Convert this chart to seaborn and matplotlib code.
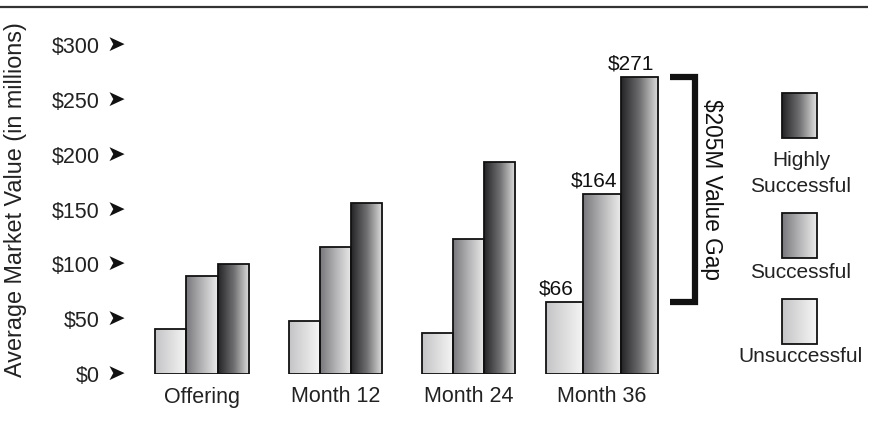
import numpy as np
import pandas as pd
import matplotlib
matplotlib.use("Agg")
import matplotlib.pyplot as plt
import seaborn as sns
from matplotlib.colors import LinearSegmentedColormap
from matplotlib.patches import Rectangle
from matplotlib.transforms import blended_transform_factory

# ---------------- data ----------------
periods = ["Offering", "Month 12", "Month 24", "Month 36"]
groups = ["Unsuccessful", "Successful", "Highly Successful"]
unsuccessful = [41, 48, 37, 66]
successful = [89, 116, 123, 164]
highly_successful = [100, 156, 193, 271]
y_ticks = [0, 50, 100, 150, 200, 250, 300]
y_tick_labels = ["$0", "$50", "$100", "$150", "$200", "$250", "$300"]
gap_label = "$205M Value Gap"
y_label = "Average Market Value (in millions)"

df = pd.DataFrame({
    "period": periods * 3,
    "group": [groups[0]] * 4 + [groups[1]] * 4 + [groups[2]] * 4,
    "value": unsuccessful + successful + highly_successful,
})

# gradient colour pairs (left -> right)
grad = {
    "Unsuccessful": ["#c4c4c6", "#f6f6f6"],
    "Successful": ["#78787c", "#b4b4b6", "#ececec"],
    "Highly Successful": ["#242426", "#707072", "#e2e2e2"],
}

FONT = ["Liberation Sans", "DejaVu Sans"]
sns.set_theme(style="white")
plt.rcParams["font.family"] = FONT

W, H = 873, 428
fig = plt.figure(figsize=(W / 100, H / 100), dpi=100)

# main axes
px_left, px_right = 130, 730
px_base, px_top = 374, 45
ax = fig.add_axes([px_left / W, (H - px_base) / H,
                   (px_right - px_left) / W, (px_base - px_top) / H])

sns.barplot(data=df, x="period", y="value", hue="group", hue_order=groups,
            order=periods, width=0.7, dodge=True, legend=False, ax=ax,
            saturation=1, color="white")

ax.set_ylim(0, 300)
ax.set_xlim(-0.54, 3.96)
for s in ax.spines.values():
    s.set_visible(False)
ax.set_xlabel("")
ax.set_ylabel("")
ax.set_yticks(y_ticks)
ax.set_yticklabels(y_tick_labels)
ax.tick_params(axis="y", length=0, pad=22, labelsize=15.5, labelcolor="#222222")
ax.tick_params(axis="x", length=0, pad=9, labelsize=15.5, labelcolor="#222222")
ax.grid(False)

def gradient_fill(axis, patch, colors):
    cmap = LinearSegmentedColormap.from_list("g", colors)
    x, y = patch.get_x(), patch.get_y()
    w, h = patch.get_width(), patch.get_height()
    g = np.linspace(0, 1, 256).reshape(1, -1)
    im = axis.imshow(g, cmap=cmap, aspect="auto", extent=[x, x + w, y, y + h],
                     origin="lower", zorder=patch.get_zorder() - 0.1,
                     interpolation="bilinear")
    im.set_clip_path(patch)

# Month 36 bars are drawn wider in the reference
w36 = 0.28
for j, (cont, grp) in enumerate(zip(ax.containers, groups)):
    for i, bar in enumerate(cont.patches):
        if i == 3:
            bar.set_width(w36)
            bar.set_x(3 - 1.5 * w36 + j * w36)
        bar.set_facecolor("none")
        bar.set_edgecolor("#111111")
        bar.set_linewidth(1.3)
        bar.set_zorder(3)
        gradient_fill(ax, bar, grad[grp])

# restore limits after imshow
ax.set_xlim(-0.54, 3.96)
ax.set_ylim(0, 300)
ax.set_aspect("auto")

# value labels on Month 36
for j, cont in enumerate(ax.containers):
    bar = cont.patches[3]
    ax.text(bar.get_x() + bar.get_width() / 2 - 0.06, bar.get_height() + 3,
            f"${df[(df.group == groups[j]) & (df.period == 'Month 36')].value.iloc[0]}",
            ha="center", va="bottom", fontsize=15, color="#111111")

# arrows next to y tick labels
btr = blended_transform_factory(fig.transFigure, ax.transData)
for t in y_ticks:
    ax.text(116 / W, t, "➤", transform=btr, ha="center", va="center",
            fontsize=16, color="#111111", family=["DejaVu Sans"])

# value gap bracket
hi, lo = highly_successful[3], unsuccessful[3]
xv, xt = 3.70, 3.51
ax.plot([xt, xv, xv, xt], [hi, hi, lo, lo], color="#111111", lw=4.5,
        solid_joinstyle="miter", solid_capstyle="butt", clip_on=False)
ax.text(3.82, (hi + lo) / 2, gap_label, rotation=-90, ha="center", va="center",
        fontsize=16.3, color="#111111")

# y label
fig.text(16 / W, 1 - 200 / H, y_label, rotation=90, ha="center", va="center",
         fontsize=16.8, color="#222222")

# overlay axes in pixel coordinates for top rule and legend
ov = fig.add_axes([0, 0, 1, 1], zorder=5)
ov.set_xlim(0, W)
ov.set_ylim(H, 0)
ov.axis("off")
ov.patch.set_alpha(0)
ov.plot([0, 868], [7, 7], color="#333333", lw=1.6, solid_capstyle="butt")

legend_boxes = {
    "Highly Successful": (93, ["Highly", "Successful"], [160, 186]),
    "Successful": (213, ["Successful"], [273]),
    "Unsuccessful": (299, ["Unsuccessful"], [357]),
}
for grp, (ytop, lines, ys) in legend_boxes.items():
    r = Rectangle((782, ytop), 35, 45, facecolor="none", edgecolor="#111111",
                  lw=1.3, zorder=3)
    ov.add_patch(r)
    cmap = LinearSegmentedColormap.from_list("g", grad[grp])
    im = ov.imshow(np.linspace(0, 1, 256).reshape(1, -1), cmap=cmap,
                   aspect="auto", extent=[782, 817, ytop + 45, ytop],
                   zorder=2, interpolation="bilinear")
    im.set_clip_path(r)
    for txt, yy in zip(lines, ys):
        ov.text(801, yy, txt, ha="center", va="center", fontsize=15,
                color="#222222")
ov.set_xlim(0, W)
ov.set_ylim(H, 0)

fig.savefig("out.png", dpi=100)
